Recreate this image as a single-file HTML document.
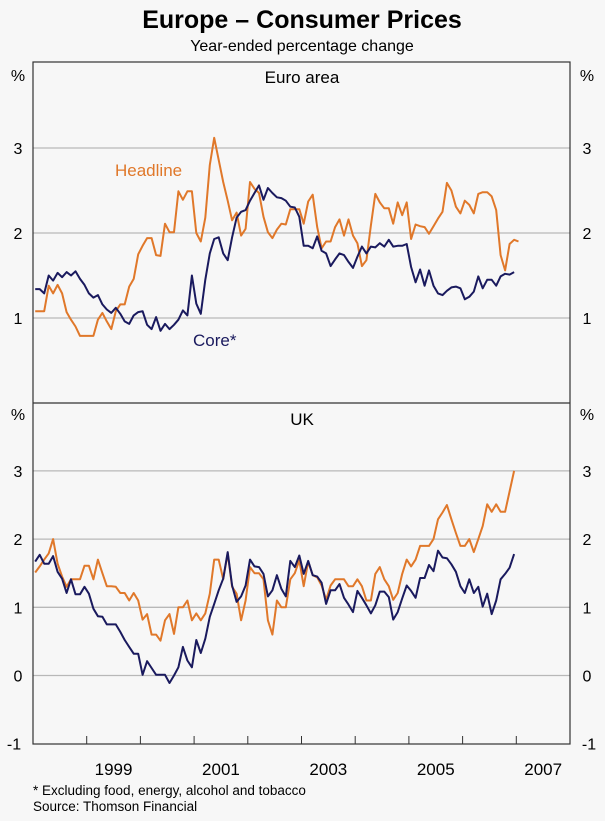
<!DOCTYPE html>
<html><head><meta charset="utf-8"><style>
body{margin:0;background:#f7f7f7;}
svg{display:block;font-family:"Liberation Sans",Arial,sans-serif;}
</style></head><body>
<svg id="chart" width="605" height="821" viewBox="0 0 605 821">
<rect x="0" y="0" width="605" height="821" fill="#f7f7f7"/>
<text x="302" y="28" text-anchor="middle" font-size="25" font-weight="bold" fill="#000">Europe – Consumer Prices</text>
<text x="302" y="51" text-anchor="middle" font-size="16" fill="#000">Year-ended percentage change</text>
<g id="grid"></g>
<g id="series"></g>
<g id="axes"></g>
<text x="18" y="81" text-anchor="middle" font-size="16">%</text>
<text x="587" y="81" text-anchor="middle" font-size="16">%</text>
<text x="18" y="420" text-anchor="middle" font-size="16">%</text>
<text x="587" y="420" text-anchor="middle" font-size="16">%</text>
<text x="302" y="83" text-anchor="middle" font-size="17">Euro area</text>
<text x="302" y="425" text-anchor="middle" font-size="17">UK</text>
<text x="115" y="176" font-size="17" fill="#e0782a">Headline</text>
<text x="193" y="346" font-size="17" fill="#1a1a5e">Core*</text>
<text x="33" y="795" font-size="13.5">*   Excluding food, energy, alcohol and tobacco</text>
<text x="33" y="811" font-size="13.5">Source: Thomson Financial</text>
</svg>
<script>
const years = [1999, 2001, 2003, 2005, 2007];
const euroTicks = [1, 2, 3];
const ukTicks = [-1, 0, 1, 2, 3];
const euroHeadline = [1.08,1.08,1.08,1.38,1.29,1.39,1.29,1.07,0.98,0.9,0.79,0.79,0.79,0.79,0.98,1.06,0.96,0.87,1.08,1.16,1.16,1.37,1.46,1.75,1.85,1.94,1.94,1.74,1.73,2.11,2.01,2.01,2.49,2.39,2.49,2.49,2.0,1.9,2.18,2.8,3.12,2.86,2.6,2.38,2.15,2.24,1.97,2.05,2.6,2.52,2.47,2.19,2.01,1.94,2.04,2.11,2.1,2.28,2.28,2.28,
2.11,2.37,2.45,2.07,1.82,1.9,1.9,2.07,2.16,1.97,2.16,1.97,1.88,1.61,1.68,2.09,2.46,2.36,2.29,2.29,2.11,2.36,2.21,2.36,1.93,2.1,2.08,2.07,1.99,2.08,2.17,2.25,2.59,2.5,2.31,2.23,2.38,2.33,2.23,2.46,2.48,2.48,2.43,2.27,1.74,1.56,1.87,1.92,1.9];
const euroCore = [1.34,1.34,1.29,1.5,1.44,1.53,1.48,1.54,1.5,1.55,1.46,1.39,1.29,1.24,1.27,1.16,1.1,1.06,1.12,1.05,0.96,0.93,1.03,1.07,1.08,0.92,0.87,1.01,0.85,0.93,0.87,0.92,0.98,1.09,1.03,1.5,1.17,1.05,1.45,1.76,1.93,1.95,1.76,1.68,1.95,2.18,2.25,2.27,2.38,2.47,2.56,2.39,2.53,2.47,2.42,2.41,2.38,2.31,2.3,2.19,
1.85,1.85,1.82,1.96,1.79,1.76,1.61,1.69,1.76,1.74,1.66,1.59,1.72,1.84,1.76,1.84,1.83,1.88,1.84,1.92,1.84,1.85,1.85,1.87,1.6,1.42,1.57,1.38,1.56,1.38,1.29,1.27,1.32,1.36,1.37,1.35,1.22,1.25,1.31,1.49,1.35,1.45,1.45,1.38,1.49,1.52,1.51,1.54];
const ukHeadline = [1.51,1.6,1.7,1.79,2.0,1.64,1.45,1.3,1.41,1.41,1.41,1.61,1.61,1.41,1.7,1.5,1.31,1.31,1.3,1.21,1.21,1.1,1.21,1.1,0.82,0.9,0.6,0.6,0.51,0.81,0.9,0.61,1.0,1.0,1.1,0.81,0.91,0.81,0.91,1.2,1.7,1.7,1.41,1.79,1.3,1.2,0.81,1.1,1.59,1.5,1.5,1.41,0.81,0.6,1.1,1.0,1.0,1.41,1.5,1.69,
1.31,1.67,1.47,1.44,1.32,1.11,1.32,1.41,1.41,1.41,1.31,1.31,1.41,1.31,1.1,1.1,1.49,1.59,1.41,1.31,1.11,1.21,1.49,1.7,1.6,1.7,1.9,1.9,1.9,2.0,2.29,2.39,2.5,2.29,2.09,1.9,1.9,2.0,1.81,2.0,2.19,2.51,2.4,2.51,2.4,2.4,2.7,3.0];
const ukCore = [1.67,1.77,1.64,1.64,1.75,1.52,1.42,1.21,1.41,1.19,1.19,1.3,1.2,0.98,0.87,0.86,0.75,0.75,0.75,0.64,0.52,0.42,0.32,0.32,0.01,0.21,0.11,0.01,0.01,0.01,-0.11,0.0,0.12,0.42,0.22,0.12,0.52,0.33,0.54,0.86,1.05,1.25,1.42,1.81,1.32,1.08,1.16,1.32,1.7,1.6,1.59,1.49,1.16,1.25,1.47,1.27,1.16,1.68,1.59,1.76,
1.49,1.68,1.47,1.45,1.36,1.05,1.25,1.25,1.34,1.14,1.04,0.93,1.24,1.14,1.03,0.91,1.03,1.23,1.23,1.15,0.82,0.93,1.13,1.32,1.24,1.14,1.43,1.43,1.62,1.53,1.83,1.73,1.72,1.63,1.52,1.31,1.21,1.41,1.21,1.3,1.01,1.2,0.9,1.1,1.41,1.49,1.58,1.78];

const NS = 'http://www.w3.org/2000/svg';
const L = 33, R = 570, TOP = 62, MID = 403, BOT = 744;
const xScale = t => L + (t - 1998) * (R - L) / 10;
const xMonth = m => xScale(1998 + (m + 0.5) / 12);
const yEuro = v => MID - v * 85;
const yUK = v => 675.5 - v * 68.2;
function mk(tag, attrs, parent){const e=document.createElementNS(NS,tag);for(const k in attrs)e.setAttribute(k,attrs[k]);parent.appendChild(e);return e;}
const grid=document.getElementById('grid'), series=document.getElementById('series'), axes=document.getElementById('axes');

euroTicks.forEach(v=>{
  const g=mk('line',{x1:L,x2:R,y1:yEuro(v),y2:yEuro(v),stroke:'#b8b8b8','stroke-width':1.3},grid);
  
  
  const a=mk('text',{x:18,y:yEuro(v)+6,'text-anchor':'middle','font-size':16},axes);a.textContent=v;
  
  
  const b=mk('text',{x:587,y:yEuro(v)+6,'text-anchor':'middle','font-size':16},axes);b.textContent=v;
  
  
});
ukTicks.forEach(v=>{
  if(v>-1){const g=mk('line',{x1:L,x2:R,y1:yUK(v),y2:yUK(v),stroke:'#b8b8b8','stroke-width':1.3},grid);
  
  }
  const a=mk('text',{x:v<0?14:18,y:yUK(v)+6,'text-anchor':'middle','font-size':16},axes);a.textContent=v;
  
  
  const b=mk('text',{x:v<0?589:587,y:yUK(v)+6,'text-anchor':'middle','font-size':16},axes);b.textContent=v;
  
  
});
const frame=mk('rect',{x:L,y:TOP,width:R-L,height:BOT-TOP,fill:'none',stroke:'#333','stroke-width':1.2},axes);


const div=mk('line',{x1:L,x2:R,y1:MID,y2:MID,stroke:'#333','stroke-width':1.2},axes);


for(let y=1999;y<=2007;y++){
  const t=mk('line',{x1:xScale(y),x2:xScale(y),y1:BOT,y2:BOT-8,stroke:'#333','stroke-width':1},axes);
  
  
}
years.forEach(y=>{
  const t=mk('text',{x:xScale(y+0.5),y:BOT+31,'text-anchor':'middle','font-size':17},axes);t.textContent=y;
  
  
});
function line(arr,ys,color,name){
  const d=arr.map((v,i)=>(i?'L':'M')+xMonth(i).toFixed(1)+','+ys(v).toFixed(1)).join(' ');
  const p=mk('path',{d:d,fill:'none',stroke:color,'stroke-width':2,'stroke-linejoin':'round'},series);
  
  
}
line(euroHeadline,yEuro,'#e0782a','euro-headline-line');
line(euroCore,yEuro,'#1a1a5e','euro-core-line');
line(ukHeadline,yUK,'#e0782a','uk-headline-line');
line(ukCore,yUK,'#1a1a5e','uk-core-line');
</script>
</body></html>
